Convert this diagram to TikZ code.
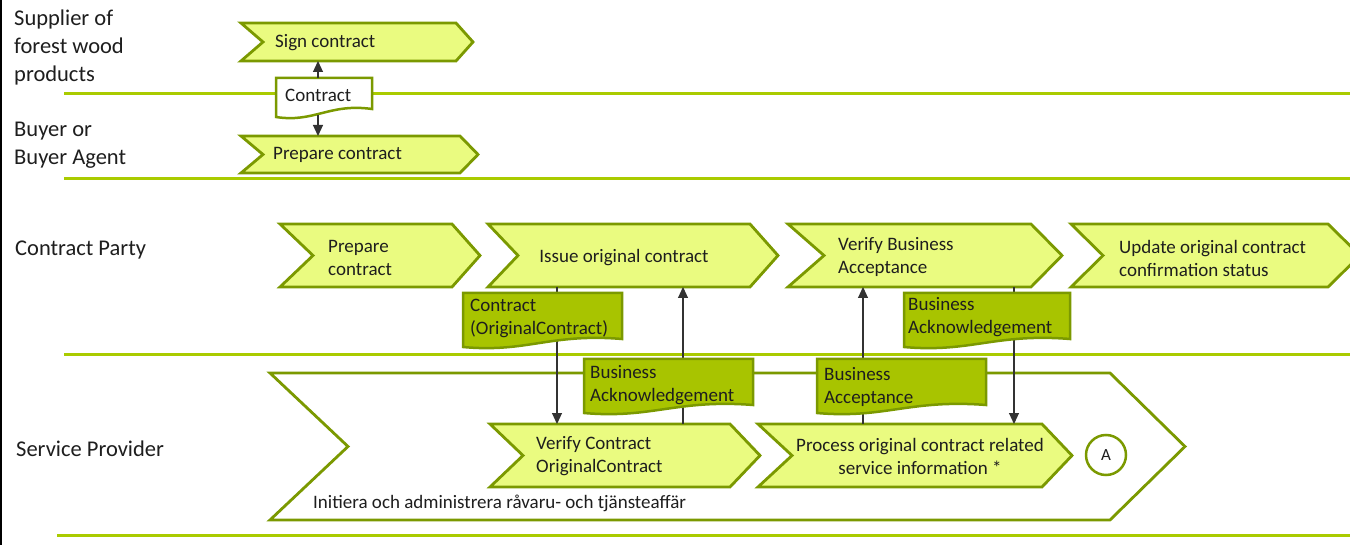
\documentclass[tikz,border=0pt]{standalone}
\usepackage{fontspec}
\setmainfont{Carlito}
\usetikzlibrary{arrows.meta,fit}
\definecolor{olivec}{HTML}{7B9900}
\definecolor{lightg}{HTML}{EAFB80}
\definecolor{darkg}{HTML}{A8C400}
\definecolor{laneg}{HTML}{AACB00}
\definecolor{arrowc}{HTML}{333333}
\definecolor{txtc}{HTML}{1E1E1E}
\newcommand\lanefont{\fontsize{22.5}{28}\selectfont}
\newcommand\boxfont{\fontsize{19}{23}\selectfont}
\newcommand\chev[8]{%
  \node[fit={(#2,#3) (#4,#5)}, inner sep=0pt, outer sep=0pt] (#1) {};
  \draw[#8] (#1.north west) -- ([xshift=-#6pt]#1.north east) -- (#1.east)
    -- ([xshift=-#6pt]#1.south east) -- (#1.south west) -- ([xshift=#7pt]#1.west) -- cycle;
}
\newcommand\docshape[6]{%
  \node[fit={(#2,#3) (#4,#5)}, inner sep=0pt, outer sep=0pt] (#1) {};
  \pgfmathsetmacro\docwd{#4-#2}
  \pgfmathsetmacro\docxa{#4-0.45*\docwd}
  \pgfmathsetmacro\docxb{#2+0.4*\docwd}
  \pgfmathsetmacro\docyr{#5-8}
  \pgfmathsetmacro\docya{#5-14}
  \pgfmathsetmacro\docyb{#5+6}
  \draw[#6] (#2,#3) -- (#4,#3) -- (#4,\docyr) .. controls (\docxa,\docya) and (\docxb,\docyb) .. (#2,#5) -- cycle;
}
\tikzset{
  lane/.style={draw=laneg, line width=3pt},
  chevL/.style={draw=olivec, fill=lightg, line width=2.8pt, line join=miter},
  chevW/.style={draw=olivec, fill=white, line width=2.8pt, line join=miter},
  docD/.style={draw=olivec, fill=darkg, line width=2.5pt, line join=miter},
  docW/.style={draw=olivec, fill=white, line width=2.5pt, line join=miter},
  arr/.style={draw=arrowc, line width=1.1pt, -{Triangle[width=10pt,length=11pt]}},
  lbl/.style={font=\lanefont, text=txtc, align=left, inner sep=0pt, anchor=west},
  btxt/.style={font=\boxfont, text=txtc, align=left, inner sep=0pt, anchor=west},
}
\begin{document}
\begin{tikzpicture}[x=1pt,y=-1pt]
\path[use as bounding box, clip] (0,0) rectangle (1350,545);
\fill[white] (0,0) rectangle (1350,545);
% frame line
\draw[black, line width=2pt] (1,0) -- (1,545);
% lane lines
\draw[lane] (64,94) -- (1350,94);
\draw[lane] (64,179) -- (1350,179);
\draw[lane] (64,355) -- (1350,355);
\draw[lane] (57,535) -- (1350,535);
% lane labels
\node[lbl] (l1) at (14,48) {Supplier of\\forest wood\\products};
\node[lbl] (l2) at (14,145) {Buyer or\\Buyer Agent};
\node[lbl] (l3) at (15,250) {Contract Party};
\node[lbl] (l4) at (16,449) {Service Provider};
% big service provider chevron
\chev{big}{270}{373}{1185}{520}{75}{78}{chevW}
% process chevrons
\chev{sign}{241}{23}{473}{61}{17}{22}{chevL}
\chev{prepB}{241}{136}{478}{173}{18}{22}{chevL}
\chev{prepC}{280}{224}{480}{287}{28}{33}{chevL}
\chev{issue}{488}{224}{778}{287}{28}{30}{chevL}
\chev{vba}{788}{224}{1062}{287}{31}{36}{chevL}
\chev{upd}{1071}{224}{1360}{287}{32}{32}{chevL}
\chev{vc}{490}{424}{760}{487}{30}{33}{chevL}
\chev{proc}{758}{424}{1072}{487}{30}{34}{chevL}
\node[circle, draw=olivec, line width=2.5pt, fill=white, minimum size=40pt, inner sep=0pt,
  font=\fontsize{17}{20}\selectfont, text=txtc] (ca) at (1106,455) {A};
% connector columns
\coordinate (c1) at (318,0);
\coordinate (c2) at (557,0);
\coordinate (c3) at (683,0);
\coordinate (c4) at (863,0);
\coordinate (c5) at (1014,0);
% connectors passing behind documents
\draw[arr] (issue.south -| c2) -- (vc.north -| c2);
\draw[arr] (vc.north -| c3) -- (issue.south -| c3);
\draw[arr] (proc.north -| c4) -- (vba.south -| c4);
\draw[arr] (vba.south -| c5) -- (proc.north -| c5);
% documents
\docshape{doc0}{276}{78}{372}{117}{docW}
\docshape{doc1}{463}{293}{622}{347}{docD}
\docshape{doc2}{904}{293}{1070}{347}{docD}
\docshape{doc3}{584}{359}{753}{413}{docD}
\docshape{doc4}{817}{359}{986}{413}{docD}
% connectors from the white contract document
\draw[arr] (doc0.north -| c1) -- (sign.south -| c1);
\draw[arr] ([yshift=2pt]doc0.south -| c1) -- (prepB.north -| c1);
% texts
\node[btxt] (t-sign) at (275,43) {Sign contract};
\node[btxt] (t-prepB) at (273,155) {Prepare contract};
\node[btxt] (t-doc0) at (285,95) {Contract};
\node[btxt] (t-prepC) at (328,258) {Prepare\\contract};
\node[btxt, anchor=center] (t-issue) at (624,258) {Issue original contract};
\node[btxt] (t-vba) at (838,257) {Verify Business\\Acceptance};
\node[btxt] (t-upd) at (1119,258) {Update original contract\\confirmation status};
\node[btxt] (t-doc1) at (470,318) {Contract\\(OriginalContract)};
\node[btxt] (t-doc2) at (908,317) {Business\\Acknowledgement};
\node[btxt] (t-doc3) at (590,385) {Business\\Acknowledgement};
\node[btxt] (t-doc4) at (824,387) {Business\\Acceptance};
\node[btxt] (t-vc) at (536,456) {Verify Contract\\OriginalContract};
\node[btxt, anchor=center, align=center] (t-proc) at (920,456) {Process original contract related\\service information *};
\node[btxt] (t-big) at (313,503) {Initiera och administrera råvaru- och tjänsteaffär};
\end{tikzpicture}
\end{document}
